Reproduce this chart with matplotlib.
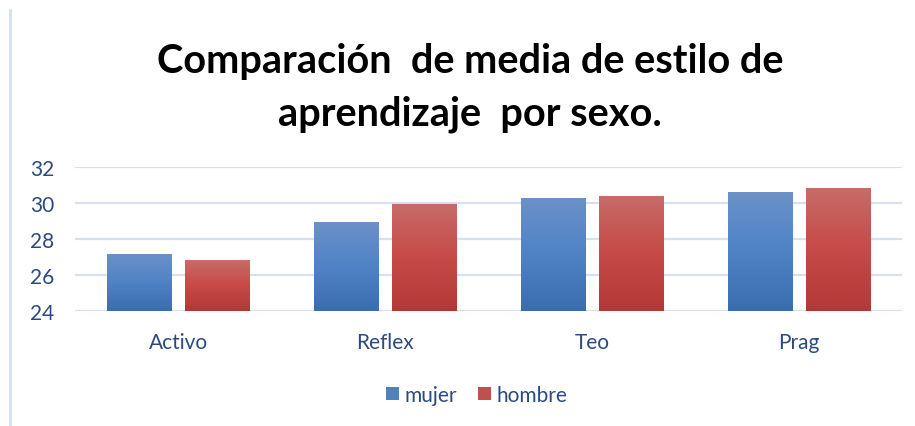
import matplotlib.pyplot as plt
import numpy as np
from matplotlib.colors import LinearSegmentedColormap

# --- data ---
categorias = ["Activo", "Reflex", "Teo", "Prag"]
mujer = [27.17, 28.94, 30.28, 30.61]
hombre = [26.83, 29.94, 30.39, 30.83]
series = ["mujer", "hombre"]

plt.rcParams['font.family'] = ['Lato', 'DejaVu Sans']

fig = plt.figure(figsize=(9.15, 4.27), dpi=100)
ax = fig.add_axes([75 / 915, 1 - 312 / 427, 827 / 915, 144 / 427])

x = np.arange(len(categorias))
w = 0.31
gap = 0.068

azul = LinearSegmentedColormap.from_list("az", ["#3A6DB0", "#4F83C6", "#6B91C8"])
rojo = LinearSegmentedColormap.from_list("ro", ["#B43836", "#C64A48", "#C76C68"])

grad = np.linspace(0, 1, 256).reshape(-1, 1)
for vals, off, cmap, lab, col in [(mujer, -(w + gap) / 2, azul, series[0], "#4F81BD"),
                                  (hombre, (w + gap) / 2, rojo, series[1], "#C0504D")]:
    bars = ax.bar(x + off, np.array(vals) - 24, w, bottom=24, color=col, label=lab, zorder=2)
    for b in bars:
        x0, y0 = b.get_x(), b.get_y()
        x1, y1 = x0 + b.get_width(), y0 + b.get_height()
        im = ax.imshow(grad, extent=[x0, x1, y0, y1], origin='lower', cmap=cmap,
                       aspect='auto', zorder=3)
        im.set_clip_path(b)

ax.set_xlim(-0.5, 3.5)
ax.set_ylim(24, 32)
ax.set_yticks([24, 26, 28, 30, 32])
ax.set_xticks(x)
ax.set_xticklabels(categorias)
ax.grid(axis='y', color='#D5E1F1', linewidth=1.6, zorder=0)
ax.set_axisbelow(True)
for s in ax.spines.values():
    s.set_visible(False)
ax.tick_params(length=0, labelsize=15, labelcolor='#2B4A80')
ax.tick_params(axis='y', pad=15)
ax.tick_params(axis='x', pad=15)

fig.text(0.514, 0.794, "Comparación  de media de estilo de\naprendizaje  por sexo.",
         ha='center', va='center', fontsize=28.6, fontweight='bold', linespacing=1.5)

leg = ax.legend(loc='center', bbox_to_anchor=(477 / 915, 1 - 396 / 427),
                bbox_transform=fig.transFigure, ncol=2, frameon=False,
                fontsize=15, handlelength=0.6, handleheight=0.6,
                handletextpad=0.3, columnspacing=1.0)
for t in leg.get_texts():
    t.set_color('#2B4A80')

# borde izquierdo del gráfico
fig.add_artist(plt.Line2D([10 / 915, 10 / 915], [0, 1 - 11 / 427],
                          transform=fig.transFigure, color='#D5E1F1', linewidth=2))

fig.savefig("out.png", dpi=100)
